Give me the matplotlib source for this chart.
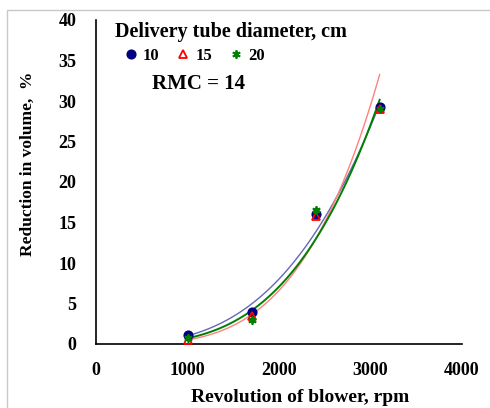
import matplotlib.pyplot as plt
import numpy as np

# Data
rpm = [1000, 1700, 2400, 3100]
red_10 = [1.1, 4.0, 16.0, 29.2]
red_15 = [0.5, 3.5, 15.8, 29.0]
red_20 = [0.8, 3.0, 16.5, 29.0]
labels = ["10", "15", "20"]

plt.rcParams["font.family"] = ["Liberation Serif", "DejaVu Serif"]
plt.rcParams["font.weight"] = "bold"

fig = plt.figure(figsize=(4.9, 4.08), dpi=100)
ax = fig.add_axes([96 / 490, 64 / 408, 366 / 490, 324 / 408])

# figure border (grey frame, open at right/bottom)
fig.patches.append(plt.Rectangle((7 / 490, -0.01), 1.0, 1 - 10 / 408 + 0.01,
                                 transform=fig.transFigure, fill=False,
                                 edgecolor="#c8c8c8", linewidth=1))

series = [
    (red_10, "#000080", "o", dict(markerfacecolor="#000080"), "#6666bb", 1.0),
    (red_15, "#ff0000", "^", dict(markerfacecolor="none"), "#ff8080", 1.0),
    (red_20, "#008000", (6, 2, 0), dict(), "#008000", 1.4),
]
x = np.array(rpm)
xs = np.linspace(1000, 3100, 100)
handles = []
for (y, col, mk, kw, lc, lw), lab in zip(series, labels):
    h, = ax.plot(x, y, linestyle="none", marker=mk, color=col, markersize=6,
                 markeredgewidth=1.3, zorder=3, **kw, label=lab)
    handles.append(h)
    # power trendline (fit in log-log space)
    b, a = np.polyfit(np.log(x), np.log(y), 1)
    ax.plot(xs, np.exp(a) * xs ** b, color=lc, linewidth=lw, zorder=2)

ax.set_xlim(0, 4000)
ax.set_ylim(0, 40)
ax.set_xticks([0, 1000, 2000, 3000, 4000])
ax.set_yticks(range(0, 41, 5))
ax.tick_params(length=0, labelsize=13)
ax.tick_params(axis="y", pad=14)
ax.tick_params(axis="x", pad=13)
for s in ["top", "right"]:
    ax.spines[s].set_visible(False)
ax.spines["left"].set_linewidth(1.2)
ax.spines["bottom"].set_linewidth(1.2)

ax.set_xlabel("Revolution of blower, rpm", fontsize=14, fontweight="bold", va="center")
ax.xaxis.set_label_coords(0.557, -0.164)
ax.set_ylabel("Reduction in volume,  %", fontsize=12.5, fontweight="bold", va="center")
ax.yaxis.set_label_coords(-0.186, 0.556)

fig.text(115 / 490, 1 - 32 / 408, "Delivery tube diameter, cm", fontsize=14.5,
         fontweight="bold", va="center")
leg = ax.legend(handles=handles, loc="center left", bbox_to_anchor=(0.065, 0.888), ncol=3,
                frameon=False, fontsize=12, handlelength=0.5, handletextpad=0.5,
                columnspacing=1.15, borderaxespad=0)
ax.text(152 / 490, 1 - 84 / 408, "RMC = 14", transform=fig.transFigure, fontsize=15,
        fontweight="bold", va="center")

fig.savefig("out.png", dpi=100)
